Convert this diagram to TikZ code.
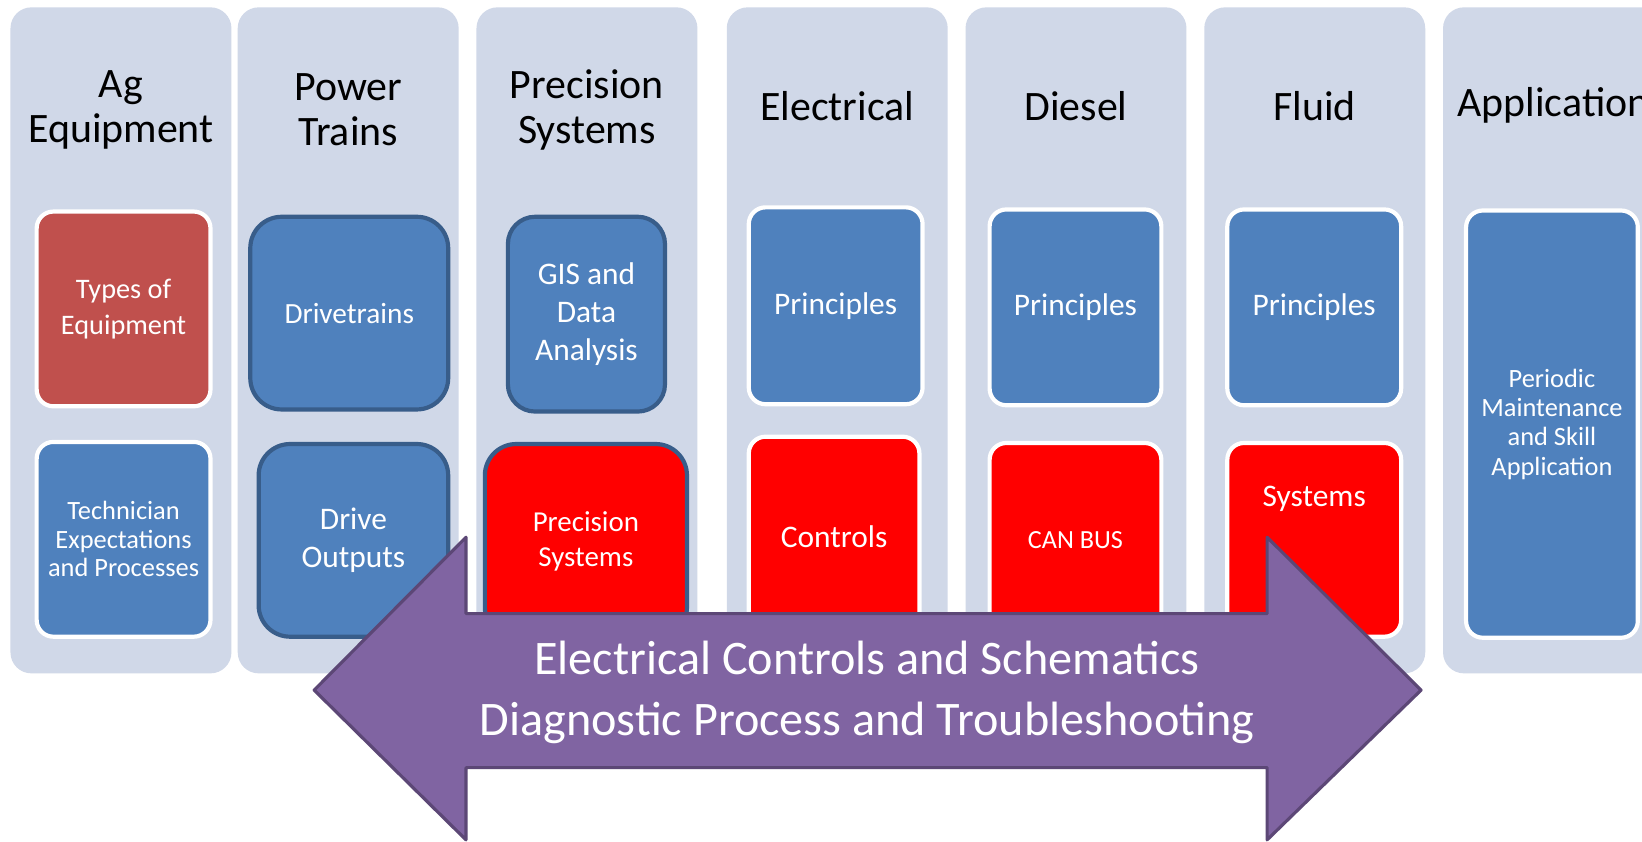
\documentclass[tikz,border=0pt]{standalone}
\usepackage{fontspec}
\setmainfont{Carlito}
\usetikzlibrary{positioning}
\definecolor{colbg}{HTML}{D0D8E8}
\definecolor{boxblue}{HTML}{4F81BD}
\definecolor{boxdark}{HTML}{385D8A}
\definecolor{softred}{HTML}{C0504D}
\definecolor{arrowfill}{HTML}{8064A2}
\definecolor{arrowline}{HTML}{5C4776}

\begin{document}
\begin{tikzpicture}[x=0.5pt,y=-0.5pt,
    column/.style={rectangle,rounded corners=10pt,fill=colbg,inner sep=0pt,outer sep=0pt,minimum width=105.5pt,minimum height=318pt},
    heading/.style={align=center,text=black,font=\fontsize{20}{21.5}\selectfont},
    white box/.style={rectangle,rounded corners=8pt,draw=white,line width=2pt,text=white,align=center,inner sep=2pt},
    dark box/.style={rectangle,rounded corners=15pt,draw=boxdark,line width=2pt,text=white,align=center,inner sep=2pt}]

\useasboundingbox (0,0) rectangle (1568,804);
\fill[white] (0,0) rectangle (1568,804);

 % columns and headings
 \foreach \x/\y/\name [count=\i] in {10/105/{Ag\\Equipment},227/105/{Power\\Trains},455/105/{Precision\\Systems},694/101/Electrical,922/101/Diesel,1150/101/Fluid,1378/101/Application}
    {\node[column] (col\i) at (\x+105.5,325) {};
     \node[heading] (head\i) at (\x+105.5,\y) {\name};}

 % Ag Equipment
 \node[white box,fill=softred,minimum width=83pt,minimum height=93pt,font=\fontsize{13.5}{17}\selectfont] (typesEq) at (118,295) {Types of\\Equipment};
 \node[white box,fill=boxblue,minimum width=83pt,minimum height=93pt,font=\fontsize{12.6}{13.6}\selectfont] (techExp) at (118,515) {Technician\\Expectations\\and Processes};

 % Power Trains
 \node[dark box,fill=boxblue,minimum width=94.5pt,minimum height=92pt,font=\fontsize{14}{17}\selectfont] (drivetrains) at (333.5,299) {Drivetrains};
 \node[dark box,fill=boxblue,minimum width=90.5pt,minimum height=92pt,font=\fontsize{15}{18}\selectfont] (driveOut) at (337.5,516) {Drive\\Outputs};

 % Precision Systems
 \node[dark box,rounded corners=13pt,fill=boxblue,minimum width=75pt,minimum height=93pt,font=\fontsize{15}{18}\selectfont] (gisData) at (560,300) {GIS and\\Data\\Analysis};
 \node[dark box,fill=red,minimum width=96.5pt,minimum height=93pt,font=\fontsize{13.8}{16.5}\selectfont] (precSys) at (559.5,517) {Precision\\Systems};

 % Electrical
 \node[white box,fill=boxblue,minimum width=83pt,minimum height=94pt,font=\fontsize{15}{18}\selectfont] (elecPrin) at (798,292) {Principles};
 \node[white box,fill=red,minimum width=81.5pt,minimum height=95.5pt,font=\fontsize{15}{18}\selectfont] (elecCtrl) at (796.5,512.5) {Controls};

 % Diesel
 \node[white box,fill=boxblue,minimum width=82pt,minimum height=93.5pt,font=\fontsize{15}{18}\selectfont] (dieselPrin) at (1027,293.5) {Principles};
 \node[white box,fill=red,minimum width=82pt,minimum height=92.5pt,font=\fontsize{12.5}{15}\selectfont] (canBus) at (1027,515.5) {CAN BUS};

 % Fluid
 \node[white box,fill=boxblue,minimum width=83pt,minimum height=93.5pt,font=\fontsize{15}{18}\selectfont] (fluidPrin) at (1255,293.5) {Principles};
 \node[white box,fill=red,minimum width=83pt,minimum height=92.5pt] (fluidSys) at (1255,515.5) {};
 \node[text=white,font=\fontsize{15}{18}\selectfont] (fluidSysText) at (1255,476) {Systems};

 % Application
 \node[white box,fill=boxblue,minimum width=82pt,minimum height=204pt,font=\fontsize{12.6}{14}\selectfont] (periodic) at (1482,405) {Periodic\\Maintenance\\and Skill\\Application};

 % double arrow
 \draw[fill=arrowfill,draw=arrowline,line width=1.5pt,line join=round]
    (300,659) -- (445,513) -- (445,586) -- (1210,586) -- (1210,513) -- (1357,659)
    -- (1210,802) -- (1210,733) -- (445,733) -- (445,802) -- cycle;
 \node[text=white,align=center,font=\fontsize{23}{29}\selectfont] (arrowText) at (828,661) {Electrical Controls and Schematics\\Diagnostic Process and Troubleshooting};

\end{tikzpicture}
\end{document}
